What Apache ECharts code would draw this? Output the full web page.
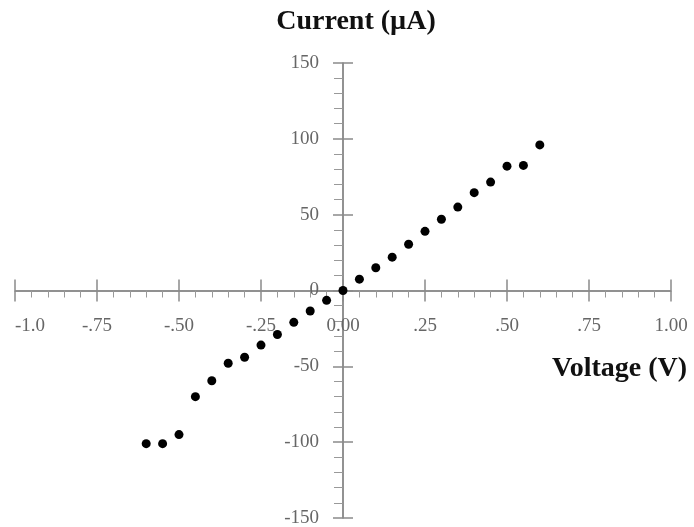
<!DOCTYPE html>
<html>
<head>
<meta charset="utf-8">
<script src="https://cdn.jsdelivr.net/npm/echarts@6/dist/echarts.min.js"></script>
<style>
  html, body { margin: 0; padding: 0; background: #fff; }
  #chart { width: 694px; height: 527px; }
</style>
</head>
<body>
<div id="chart"></div>
<script>
// I-V measurement points
const voltage = [-0.6, -0.55, -0.5, -0.45, -0.4, -0.35, -0.3, -0.25, -0.2, -0.15, -0.1, -0.05,
  0, 0.05, 0.1, 0.15, 0.2, 0.25, 0.3, 0.35, 0.4, 0.45, 0.5, 0.55, 0.6]
const current = [-101, -101, -95, -70, -59.5, -48, -44, -36, -29, -21, -13.5, -6.5,
  0, 7.5, 15, 22, 30.5, 39, 47, 55, 64.5, 71.5, 82, 82.5, 96]

const xTickLabels = ['-1.0', '-.75', '-.50', '-.25', '0.00', '.25', '.50', '.75', '1.00']
const yTickLabels = ['-150', '-100', '-50', '0', '50', '100', '150']

const serif = '"Liberation Serif", "DejaVu Serif", serif'
const lineColor = '#6e6e6e'
const tickColor = '#8a8a8a'
const labelColor = '#666'

// plot box, the axes cross in its middle
const gridBox = { left: 15, right: 23, top: 63, bottom: 9 }
const plotW = 694 - gridBox.left - gridBox.right
const plotH = 527 - gridBox.top - gridBox.bottom
const xShift = -plotH / 2
const yShift = -plotW / 2

const chart = echarts.init(document.getElementById('chart'))

// second axis pair only draws the other half of the major ticks
function tickOnly(axis, pos, offset, len) {
  return Object.assign({}, axis, {
    position: pos,
    offset: offset,
    axisLine: { show: false, onZero: false },
    axisTick: { length: len, lineStyle: { color: tickColor, width: 1.5 } },
    minorTick: { show: false },
    splitLine: { show: false },
    axisLabel: { show: false }
  })
}

const xBase = { type: 'value', min: -1, max: 1, interval: 0.25 }
const yBase = { type: 'value', min: -150, max: 150, interval: 50 }

chart.setOption({
  backgroundColor: '#fff',
  animation: false,
  title: [
    {
      text: 'Current (µA)',
      left: 356,
      top: 8,
      textAlign: 'center',
      padding: 0,
      textStyle: { fontFamily: serif, fontWeight: 'bold', fontSize: 28, color: '#111' }
    },
    {
      text: 'Voltage (V)',
      left: 552,
      top: 355,
      padding: 0,
      textStyle: { fontFamily: serif, fontWeight: 'bold', fontSize: 28, color: '#111' }
    }
  ],
  grid: Object.assign({ outerBoundsMode: 'none', containLabel: false }, gridBox),
  xAxis: [
    Object.assign({}, xBase, {
      position: 'bottom',
      offset: xShift,
      axisLine: { onZero: false, lineStyle: { color: lineColor, width: 1.5 } },
      axisTick: { length: 11, lineStyle: { color: tickColor, width: 1.5 } },
      minorTick: { show: true, splitNumber: 5, length: 7, lineStyle: { color: '#999' } },
      splitLine: { show: false },
      axisLabel: {
        margin: 26,
        fontFamily: serif,
        fontSize: 19,
        color: labelColor,
        alignMinLabel: 'left',
        formatter: function (v) {
          return xTickLabels[Math.round((v + 1) / 0.25)]
        }
      }
    }),
    tickOnly(xBase, 'top', xShift, 11)
  ],
  yAxis: [
    Object.assign({}, yBase, {
      position: 'left',
      offset: yShift,
      axisLine: { onZero: false, lineStyle: { color: lineColor, width: 1.5 } },
      axisTick: { length: 10, lineStyle: { color: tickColor, width: 1.5 } },
      minorTick: { show: true, splitNumber: 5, length: 9, lineStyle: { color: '#999' } },
      splitLine: { show: false },
      axisLabel: {
        margin: 24,
        fontFamily: serif,
        fontSize: 19,
        color: labelColor,
        formatter: function (v) {
          return yTickLabels[Math.round((v + 150) / 50)]
        }
      }
    }),
    tickOnly(yBase, 'right', yShift, 10)
  ],
  series: [
    {
      type: 'scatter',
      xAxisIndex: 0,
      yAxisIndex: 0,
      symbol: 'circle',
      symbolSize: 9,
      itemStyle: { color: '#000', opacity: 1 },
      data: voltage.map((v, i) => [v, current[i]])
    }
  ]
})
</script>
</body>
</html>
